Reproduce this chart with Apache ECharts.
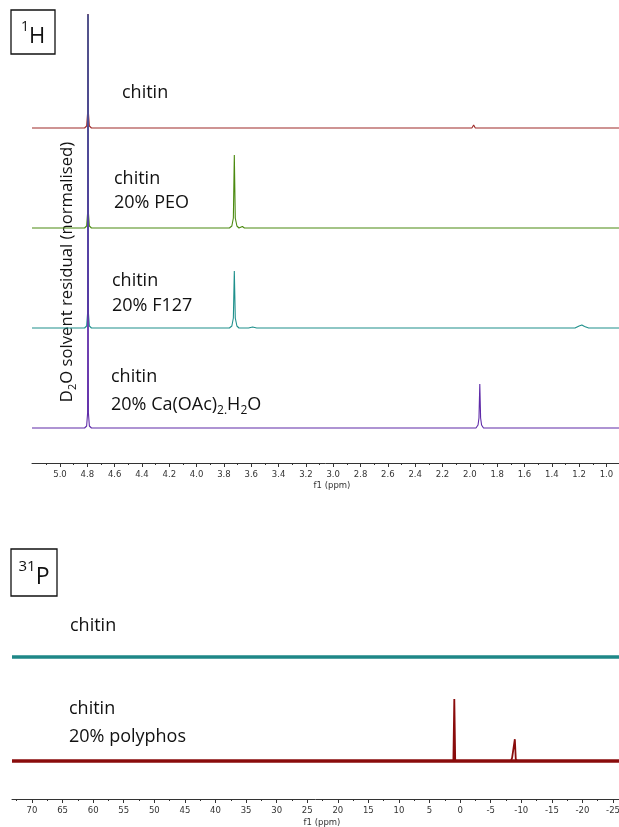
<!DOCTYPE html>
<html>
<head>
<meta charset="utf-8">
<script src="https://cdn.jsdelivr.net/npm/echarts@6/dist/echarts.min.js"></script>
<style>
html,body{margin:0;padding:0;background:#fff;}
#main{width:619px;height:827px;}
</style>
</head>
<body>
<div id="main"></div>
<script>
// ---------- 1H axis ----------
const hMin = 0.908, hMax = 5.205;
const hMajorTicks = [5.0,4.8,4.6,4.4,4.2,4.0,3.8,3.6,3.4,3.2,3.0,2.8,2.6,2.4,2.2,2.0,1.8,1.6,1.4,1.2,1.0];
const hMinorTicks = [5.1,4.9,4.7,4.5,4.3,4.1,3.9,3.7,3.5,3.3,3.1,2.9,2.7,2.5,2.3,2.1,1.9,1.7,1.5,1.3,1.1];
// ---------- 31P axis ----------
const pMin = -25.98, pMax = 73.27;
const pMajorTicks = [70,65,60,55,50,45,40,35,30,25,20,15,10,5,0,-5,-10,-15,-20,-25];
const pMinorTicks = [72.5,67.5,62.5,57.5,52.5,47.5,42.5,37.5,32.5,27.5,22.5,17.5,12.5,7.5,2.5,-2.5,-7.5,-12.5,-17.5,-22.5];

// ---------- 1H spectra: [ppm, normalised intensity] ----------
const hNames = ['chitin','chitin 20% PEO','chitin 20% F127','chitin 20% Ca(OAc)2.H2O'];
const hOffsets = [3,2,1,0];
const hChitin = [[5.205,0],[4.82,0],[4.805,0.02],[4.798,0.15],[4.795,1.14],[4.792,0.15],[4.785,0.02],[4.77,0],
  [3.735,0],[3.724,0.01],[3.71,0],[1.985,0],[1.972,0.03],[1.96,0],[0.908,0]];
const hPEO = [[5.205,0],[4.82,0],[4.805,0.02],[4.798,0.15],[4.795,2.14],[4.792,0.15],[4.785,0.02],[4.77,0],
  [3.76,0],[3.742,0.02],[3.731,0.1],[3.724,0.73],[3.717,0.1],[3.705,0.02],[3.69,0],[3.676,0.02],[3.665,0.015],[3.65,0],
  [1.985,0],[1.972,0.01],[1.96,0],[0.908,0]];
const hF127 = [[5.205,0],[4.82,0],[4.805,0.02],[4.798,0.15],[4.795,3.13],[4.792,0.15],[4.785,0.02],[4.77,0],
  [3.76,0],[3.742,0.02],[3.731,0.1],[3.724,0.57],[3.717,0.1],[3.705,0.02],[3.69,0],[3.62,0],[3.59,0.01],[3.56,0],
  [1.985,0],[1.972,0.01],[1.96,0],[1.23,0],[1.2,0.02],[1.18,0.03],[1.16,0.015],[1.13,0],[0.908,0]];
const hCa = [[5.205,0],[4.82,0],[4.805,0.02],[4.798,0.15],[4.795,4.14],[4.792,0.15],[4.785,0.02],[4.77,0],
  [3.735,0],[3.724,0.01],[3.71,0],[1.955,0],[1.94,0.03],[1.933,0.1],[1.927,0.44],[1.921,0.1],[1.914,0.03],[1.90,0],[0.908,0]];
const hSpectra = [hChitin, hPEO, hF127, hCa];
const hColors = ['#9e2a28','#4b8a10','#1f908c','#5e2aa8'];

// ---------- 31P spectra ----------
const pOffsets = [1,0];
const pChitin = [[73.27,0],[-25.98,0]];
const pPolyphos = [[73.27,0],[1.1,0],[0.95,0.596],[0.8,0],
  [-8.3,0],[-8.5,0.03],[-8.8,0.02],[-8.95,0.21],[-9.1,0.02],[-9.3,0],[-25.98,0]];
const pColors = ['#1e8787','#8a0c0c'];

function shift(arr, off){ return arr.map(p => [p[0], p[1] + off]); }

const chart = echarts.init(document.getElementById('main'), null, {renderer:'canvas', width:619, height:827});

const axisLabelStyle = {fontFamily:'DejaVu Sans', fontSize:8.5, color:'#333', margin:7};
const axisLineStyle = {show:true, onZero:false, lineStyle:{color:'#333', width:1}};

const series = [];
hSpectra.forEach((s,i)=>{
  series.push({type:'line', name:hNames[i], xAxisIndex:0, yAxisIndex:0, data:shift(s,hOffsets[i]),
    showSymbol:false, symbol:'none', clip:true, lineStyle:{color:hColors[i], width:1.1}, z:2+i, animation:false});
});
series.push({type:'line', name:'chitin 31P band', xAxisIndex:2, yAxisIndex:1, data:shift(pChitin,pOffsets[0]),
  showSymbol:false, symbol:'none', lineStyle:{color:pColors[0], width:3.5}, animation:false});
series.push({type:'line', name:'polyphos band', xAxisIndex:2, yAxisIndex:1, data:shift([[73.27,0],[-25.98,0]],pOffsets[1]),
  showSymbol:false, symbol:'none', lineStyle:{color:pColors[1], width:3.5}, animation:false});
series.push({type:'line', name:'chitin 20% polyphos', xAxisIndex:2, yAxisIndex:1, data:shift(pPolyphos,pOffsets[1]),
  showSymbol:false, symbol:'none', lineStyle:{color:pColors[1], width:1.8}, animation:false});

const txt = (x,y,text,extra) => Object.assign({type:'text', x:x, y:y, silent:true,
  style:{text:text, fontFamily:'Open Sans', fontSize:18, fill:'#111', align:'left', verticalAlign:'middle'}}, extra||{});

const option = {
  animation:false,
  backgroundColor:'#fff',
  grid:[
    {left:32, top:14, width:587, height:449, containLabel:false, outerBoundsMode:'none'},
    {left:12, top:640, width:607, height:159, containLabel:false, outerBoundsMode:'none'}
  ],
  xAxis:[
    {type:'value', gridIndex:0, min:hMin, max:hMax, inverse:true, position:'bottom',
     axisLine:axisLineStyle, splitLine:{show:false},
     axisTick:{show:true, length:4, customValues:hMajorTicks, lineStyle:{color:'#333'}},
     axisLabel:Object.assign({customValues:hMajorTicks, formatter:v=>v.toFixed(1)}, axisLabelStyle)},
    {type:'value', gridIndex:0, min:hMin, max:hMax, inverse:true, position:'bottom',
     axisLine:{show:false, onZero:false}, splitLine:{show:false},
     axisTick:{show:true, length:2, customValues:hMinorTicks, lineStyle:{color:'#333'}},
     axisLabel:{show:false}},
    {type:'value', gridIndex:1, min:pMin, max:pMax, inverse:true, position:'bottom',
     axisLine:axisLineStyle, splitLine:{show:false},
     axisTick:{show:true, length:4, customValues:pMajorTicks, lineStyle:{color:'#333'}},
     axisLabel:Object.assign({customValues:pMajorTicks, formatter:v=>String(v)}, axisLabelStyle)},
    {type:'value', gridIndex:1, min:pMin, max:pMax, inverse:true, position:'bottom',
     axisLine:{show:false, onZero:false}, splitLine:{show:false},
     axisTick:{show:true, length:2, customValues:pMinorTicks, lineStyle:{color:'#333'}},
     axisLabel:{show:false}}
  ],
  yAxis:[
    {type:'value', gridIndex:0, min:-0.35, max:4.14, show:false},
    {type:'value', gridIndex:1, min:-0.365, max:1.164, show:false}
  ],
  series:series,
  graphic:[
    {type:'rect', shape:{x:11, y:10, width:44, height:44}, style:{fill:'none', stroke:'#111', lineWidth:1.3}, silent:true},
    txt(33, 34, '', {style:{text:'{s|1}{b|H}', align:'center', verticalAlign:'middle', fontFamily:'Open Sans', fill:'#111',
      rich:{s:{fontSize:14, fontFamily:'Open Sans', lineHeight:14, verticalAlign:'top', fill:'#111'},
            b:{fontSize:22, fontFamily:'Open Sans', lineHeight:28, verticalAlign:'bottom', fill:'#111'}}}}),
    {type:'rect', shape:{x:11, y:549, width:46, height:47}, style:{fill:'none', stroke:'#111', lineWidth:1.3}, silent:true},
    txt(34, 574, '', {style:{text:'{s|31}{b|P}', align:'center', verticalAlign:'middle', fontFamily:'Open Sans', fill:'#111',
      rich:{s:{fontSize:15, fontFamily:'Open Sans', lineHeight:15, verticalAlign:'top', fill:'#111'},
            b:{fontSize:23, fontFamily:'Open Sans', lineHeight:30, verticalAlign:'bottom', fill:'#111'}}}}),
    txt(122, 93, 'chitin'),
    txt(114, 179, 'chitin'),
    txt(114, 203, '20% PEO'),
    txt(112, 281, 'chitin'),
    txt(112, 306, '20% F127'),
    txt(111, 377, 'chitin'),
    txt(111, 405, '', {style:{text:'{n|20% Ca(OAc)}{s|2.}{n|H}{s|2}{n|O}', align:'left', verticalAlign:'middle', fontFamily:'Open Sans', fill:'#111',
      rich:{n:{fontSize:18, fontFamily:'Open Sans', lineHeight:24, verticalAlign:'middle', fill:'#111'},
            s:{fontSize:12, fontFamily:'Open Sans', lineHeight:12, verticalAlign:'bottom', fill:'#111'}}}}),
    txt(67, 272, '', {rotation:Math.PI/2, style:{text:'{n|D}{s|2}{n|O solvent residual (normalised)}', align:'center', verticalAlign:'middle', fontFamily:'Open Sans', fill:'#111',
      rich:{n:{fontSize:16.7, fontFamily:'Open Sans', lineHeight:22, verticalAlign:'middle', fill:'#111'},
            s:{fontSize:11, fontFamily:'Open Sans', lineHeight:11, verticalAlign:'bottom', fill:'#111'}}}}),
    txt(70, 626, 'chitin'),
    txt(69, 709, 'chitin'),
    txt(69, 737, '20% polyphos'),
    {type:'text', x:332, y:486, silent:true, style:{text:'f1 (ppm)', fontFamily:'DejaVu Sans', fontSize:8.5, fill:'#333', align:'center', verticalAlign:'middle'}},
    {type:'text', x:322, y:823, silent:true, style:{text:'f1 (ppm)', fontFamily:'DejaVu Sans', fontSize:8.5, fill:'#333', align:'center', verticalAlign:'middle'}}
  ]
};
chart.setOption(option);
</script>
</body>
</html>
